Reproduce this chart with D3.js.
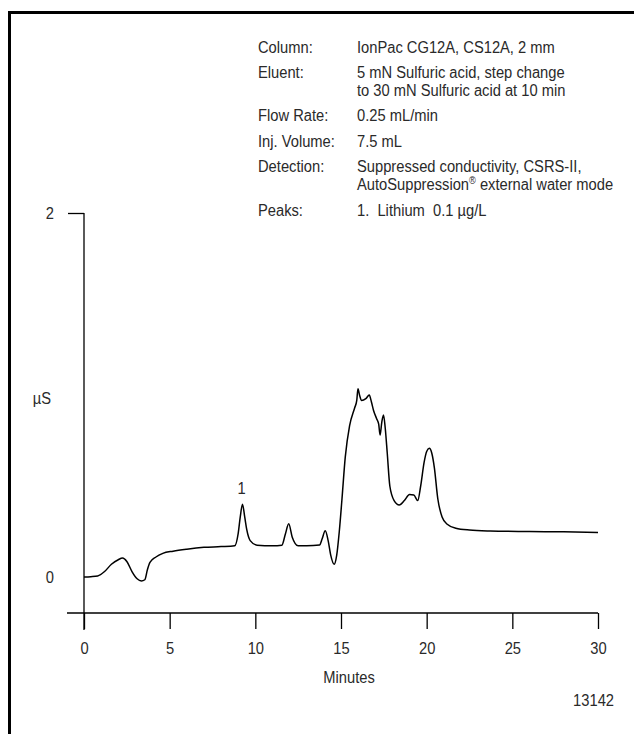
<!DOCTYPE html>
<meta charset="utf-8">
<style>
body { margin: 0; background: #fff; }
text { font-family: 'Liberation Sans', Arial, sans-serif; fill: #2a2a2a; white-space: pre; }
.axis path.domain { display: none; }
.axis line { stroke: #000; stroke-width: 1.3; }
.axis text { font-family: 'Liberation Sans', Arial, sans-serif; font-size: 16px; fill: #2a2a2a; }
</style>
<body>
<script src="https://cdnjs.cloudflare.com/ajax/libs/d3/7.8.5/d3.min.js"></script>
<script>

// chromatogram trace
var time = [0, 0.4, 0.8, 1.2, 1.6, 2.0, 2.25, 2.5, 2.8, 3.1, 3.35, 3.55, 3.7, 3.85, 4.2, 4.6, 5.2, 6.0, 7.0, 8.0,
            8.8, 9.0, 9.12, 9.25, 9.38, 9.5, 9.7, 10.1, 11.0, 11.55, 11.75, 11.95, 12.15, 12.5, 13.0, 13.75,
            13.9, 14.08, 14.25, 14.4, 14.6, 14.75, 14.9, 15.05, 15.25, 15.5, 15.8, 15.92, 15.99, 16.08, 16.2,
            16.45, 16.65, 16.78, 16.9, 17.08, 17.2, 17.28, 17.38, 17.48, 17.58, 17.7, 17.85, 18.1, 18.4, 18.7,
            19.0, 19.25, 19.48, 19.65, 19.85, 20.0, 20.15, 20.3, 20.45, 20.65, 20.9, 21.2, 21.7, 22.5, 23.7,
            26, 28, 30];
var signal = [0.0, 0.002, 0.006, 0.03, 0.07, 0.095, 0.104, 0.085, 0.03, -0.01, -0.022, -0.015, 0.04, 0.08, 0.11, 0.13, 0.142, 0.153, 0.163, 0.167,
              0.172, 0.24, 0.33, 0.40, 0.33, 0.26, 0.2, 0.175, 0.172, 0.175, 0.235, 0.292, 0.22, 0.172, 0.172, 0.176,
              0.21, 0.254, 0.2, 0.12, 0.07, 0.12, 0.25, 0.42, 0.66, 0.83, 0.93, 0.97, 1.035, 1.0, 0.97,
              0.98, 1.0, 0.96, 0.915, 0.87, 0.84, 0.78, 0.85, 0.89, 0.82, 0.68, 0.5, 0.42, 0.396, 0.42,
              0.453, 0.45, 0.42, 0.5, 0.63, 0.69, 0.707, 0.68, 0.6, 0.43, 0.33, 0.29, 0.268, 0.258, 0.253,
              0.25, 0.248, 0.245];

var xTicks = [0, 5, 10, 15, 20, 25, 30];
var yTicks = [0, 2];
var peakLabels = [{t: 9.25, v: 0.40, label: "1"}];

var infoLabels = ["Column:", "Eluent:", "Flow Rate:", "Inj. Volume:", "Detection:", "Peaks:"];
var infoValues = [
  ["IonPac CG12A, CS12A, 2 mm"],
  ["5 mN Sulfuric acid, step change", "to 30 mN Sulfuric acid at 10 min"],
  ["0.25 mL/min"],
  ["7.5 mL"],
  ["Suppressed conductivity, CSRS-II,", "AutoSuppression|\u00AE| external water mode"],
  ["1.  Lithium  0.1 \u00B5g/L"]
];

var W = 634, H = 734;
var plot = {left: 84, right: 598, top: 213, bottom: 577};
var sx = 0.92;   // narrow the Arial-like face a bit
var fs = 16;

var x = d3.scaleLinear().domain([0, 30]).range([plot.left, plot.right]);
var y = d3.scaleLinear().domain([0, 2]).range([plot.bottom, plot.top]);

var svg = d3.select("body").append("svg")
    .attr("width", W)
    .attr("height", H);

function label(parent, px, py, str, anchor) {
  return parent.append("text")
      .attr("transform", "translate(" + px + "," + py + ") scale(" + sx + ",1)")
      .attr("text-anchor", anchor || "start")
      .style("font-size", fs + "px")
      .text(str);
}

// frame (top and left edges visible, rest runs off the page)
svg.append("rect")
    .attr("x", 9.5).attr("y", 12.5)
    .attr("width", W + 20).attr("height", H + 20)
    .attr("fill", "none").attr("stroke", "#000").attr("stroke-width", 3);

var axisY = 613;

// x axis
var xAxis = svg.append("g")
    .attr("class", "axis")
    .attr("transform", "translate(0," + axisY + ")")
    .call(d3.axisBottom(x).tickValues(xTicks).tickSize(16).tickSizeOuter(0).tickPadding(14).tickFormat(d3.format("d")));
xAxis.selectAll(".tick text").attr("transform", "scale(" + sx + ",1)");
xAxis.append("line")
    .attr("x1", x(0) - 17).attr("x2", x(30))
    .attr("y1", 0).attr("y2", 0);

// y axis
var yAxis = svg.append("g")
    .attr("class", "axis")
    .attr("transform", "translate(" + x(0) + ",0)")
    .call(d3.axisLeft(y).tickValues(yTicks).tickSize(16).tickSizeOuter(0).tickPadding(14).tickFormat(d3.format("d")));
yAxis.selectAll(".tick text")
    .attr("x", -30 / sx)
    .attr("transform", "scale(" + sx + ",1)");
yAxis.selectAll(".tick").filter(function(d) { return d === 0; }).select("line").remove();
yAxis.append("line")
    .attr("x1", 0).attr("x2", 0)
    .attr("y1", y(2)).attr("y2", axisY + 17);

// trace
var data = time.map(function(t, i) { return {t: t, v: signal[i]}; });
var line = d3.line()
    .x(function(d) { return x(d.t); })
    .y(function(d) { return y(d.v); })
    .curve(d3.curveMonotoneX);

svg.append("path")
    .datum(data)
    .attr("fill", "none")
    .attr("stroke", "#000")
    .attr("stroke-width", 1.5)
    .attr("d", line);

// peak labels
peakLabels.forEach(function(d) {
  label(svg, x(d.t) - 1, y(d.v) - 10, d.label, "middle");
});

// axis titles
label(svg, 42, 404, "\u00B5S", "middle");
label(svg, (x(0) + x(30)) / 2 + 8, 683, "Minutes", "middle");
label(svg, 614, 706, "13142", "end");

// conditions block; "|...|" marks a superscript piece
var rowY = [53, 78, 121, 147, 172, 216];
var info = svg.append("g");
infoLabels.forEach(function(lab, i) {
  label(info, 258, rowY[i], lab);
  infoValues[i].forEach(function(v, j) {
    var t = label(info, 357, rowY[i] + j * 18, "");
    v.split("|").forEach(function(part, k) {
      var s = t.append("tspan").text(part);
      if (k % 2 === 1) s.style("font-size", "10px").attr("dy", -6);
      else if (k > 0) s.attr("dy", 6);
    });
  });
});

</script>
</body>
